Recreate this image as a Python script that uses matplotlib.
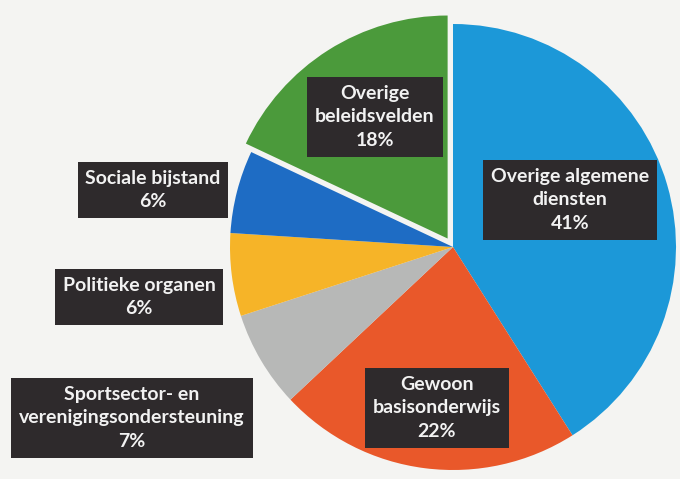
import matplotlib
matplotlib.use("Agg")
import matplotlib.pyplot as plt

# data, clockwise from 12 o'clock
categories = ["Overige algemene diensten", "Gewoon basisonderwijs",
              "Sportsector- en verenigingsondersteuning", "Politieke organen",
              "Sociale bijstand", "Overige beleidsvelden"]
shares = [41, 22, 7, 6, 6, 18]
display_labels = ["Overige algemene\ndiensten", "Gewoon\nbasisonderwijs",
                  "Sportsector- en\nverenigingsondersteuning", "Politieke organen",
                  "Sociale bijstand", "Overige\nbeleidsvelden"]

colors = ["#1c98d8", "#e9582a", "#b7b8b7", "#f6b428", "#1e6cc4", "#4b9a3b"]
explode = [0, 0, 0, 0, 0, 0.045]

# layout (pixels in a 680x479 image)
W, H = 680, 479
cx, cy, R = 453, 247, 223
label_px = [(570, 200), (437, 408), (132, 418), (139, 297), (153, 190), (375, 117)]

fig = plt.figure(figsize=(W / 100, H / 100), dpi=100)
fig.patch.set_facecolor("#f4f4f2")
ax = fig.add_axes([0, 0, 1, 1])
ax.set_facecolor("#f4f4f2")

ax.pie(shares, colors=colors, startangle=90, counterclock=False, radius=1,
       explode=explode, wedgeprops=dict(linewidth=0))

# pie() resets the view, so fix the limits afterwards
ax.set_xlim(-cx / R, (W - cx) / R)
ax.set_ylim(-(H - cy) / R, cy / R)
ax.set_aspect("equal")
ax.axis("off")


def to_data(px, py):
    return (px - cx) / R, (cy - py) / R


for lab, val, (px, py) in zip(display_labels, shares, label_px):
    x, y = to_data(px, py)
    ax.text(x, y, f"{lab}\n{val}%", ha="center", va="center", color="#f2f2f2",
            fontsize=14, fontfamily="Lato", fontweight="bold", linespacing=1.45,
            bbox=dict(boxstyle="square,pad=0.4", facecolor="#2e2a2c",
                      edgecolor="none"))

fig.savefig("out.png", dpi=100, facecolor=fig.get_facecolor())
